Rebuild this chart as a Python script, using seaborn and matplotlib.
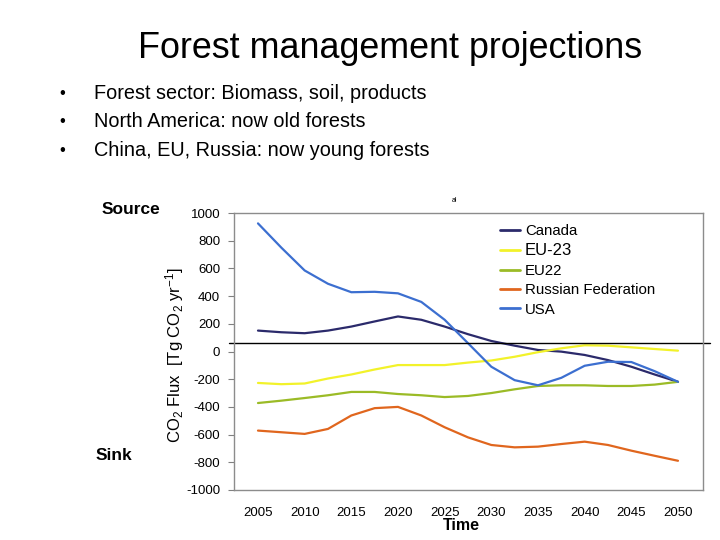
import numpy as np
import pandas as pd
import matplotlib
matplotlib.use("Agg")
import matplotlib.pyplot as plt
import seaborn as sns
from matplotlib.lines import Line2D

# ---- data (every 2.5 years) ----
years = [2005, 2007.5, 2010, 2012.5, 2015, 2017.5, 2020, 2022.5, 2025, 2027.5,
         2030, 2032.5, 2035, 2037.5, 2040, 2042.5, 2045, 2047.5, 2050]
canada = [151, 139, 132, 151, 180, 217, 253, 229, 180, 125,
          76, 42, 11, -1, -25, -62, -110, -166, -219]
eu23 = [-227, -236, -231, -195, -166, -130, -98, -98, -98, -80,
        -65, -38, -5, 23, 45, 42, 30, 18, 6]
eu22 = [-372, -355, -336, -316, -292, -292, -307, -316, -329, -321,
        -300, -273, -249, -244, -244, -249, -249, -239, -219]
russia = [-571, -583, -595, -559, -462, -409, -400, -462, -547, -620,
          -675, -692, -687, -668, -651, -675, -716, -753, -789]
usa = [925, 750, 585, 489, 428, 431, 420, 358, 229, 60,
       -110, -207, -244, -190, -103, -74, -76, -142, -219]

series_names = ["Canada", "EU-23", "EU22", "Russian Federation", "USA"]
colors = ["#2b2a6b", "#f2f22a", "#9bbb26", "#e0661e", "#3c6fd0"]
year_ticks = [2005, 2010, 2015, 2020, 2025, 2030, 2035, 2040, 2045, 2050]
bullets = ["Forest sector: Biomass, soil, products",
           "North America: now old forests",
           "China, EU, Russia: now young forests"]

df = pd.DataFrame({
    "year": years * 5,
    "flux": canada + eu23 + eu22 + russia + usa,
    "region": sum([[n] * len(years) for n in series_names], []),
})

sns.set_style("white")
plt.rcParams["font.family"] = ["Liberation Sans", "DejaVu Sans"]
plt.rcParams["mathtext.default"] = "regular"
plt.rcParams["axes.unicode_minus"] = False
plt.rcParams["text.color"] = "black"
plt.rcParams["xtick.color"] = "black"
plt.rcParams["ytick.color"] = "black"

fig = plt.figure(figsize=(7.2, 5.4), dpi=100)
ax = fig.add_axes([234 / 720, 1 - 490 / 540, (703 - 234) / 720, (490 - 213) / 540])

sns.lineplot(data=df, x="year", y="flux", hue="region", hue_order=series_names,
             palette=colors, linewidth=1.6, ax=ax, legend=False)

ax.set_xlim(2002.43, 2052.68)
ax.set_ylim(-1000, 1000)
ax.set_yticks(np.arange(-1000, 1001, 200))
ax.set_xticks(year_ticks)
ax.set_xticklabels([str(y) for y in year_ticks])
ax.tick_params(axis="x", length=0, pad=12, labelsize=9.5, labelcolor="black")
ax.tick_params(axis="y", length=4, width=0.8, color="#808080", pad=6,
               labelsize=9.5, left=True, labelcolor="black")
ax.set_xlabel("")
ax.set_ylabel("")
for s in ax.spines.values():
    s.set_color("#8c8c8c")
    s.set_linewidth(1.0)

# horizontal reference line (slightly above zero, running past the box)
ax.plot([-0.01, 1.015], [0.531, 0.531], transform=ax.transAxes,
        color="black", linewidth=1.0, clip_on=False)

# legend
handles = [Line2D([0], [0], color=c, linewidth=2) for c in colors]
leg = fig.legend(handles, series_names, loc="upper left",
                 bbox_to_anchor=(500 / 720, 1 - 224 / 540), frameon=False,
                 fontsize=10.8, handlelength=1.35, handletextpad=0.3,
                 labelspacing=0.36, borderpad=0, borderaxespad=0)
for t in leg.get_texts():
    t.set_color("black")
leg.get_texts()[1].set_fontsize(12)

# texts
fig.text(390 / 720, 1 - 48 / 540, "Forest management projections",
         ha="center", va="center", fontsize=25.8)
for i, b in enumerate(bullets):
    yy = 1 - (93 + 29 * i) / 540
    fig.text(62 / 720, yy, "\u2022", ha="center", va="center", fontsize=12)
    fig.text(94 / 720, yy, b, ha="left", va="center", fontsize=14.3)

fig.text(131 / 720, 1 - 210 / 540, "Source", ha="center", va="center",
         fontsize=12.5, fontweight="bold")
fig.text(114 / 720, 1 - 455 / 540, "Sink", ha="center", va="center",
         fontsize=12.5, fontweight="bold")
fig.text(175 / 720, 1 - 355 / 540, "CO$_2$ Flux  [Tg CO$_2$ yr$^{-1}$]",
         rotation=90, ha="center", va="center", fontsize=12)
fig.text(461 / 720, 1 - 526 / 540, "Time", ha="center", va="center",
         fontsize=11.5, fontweight="bold")
fig.text(455 / 720, 1 - 201 / 540, "al", ha="center", va="center", fontsize=5)

fig.savefig("out.png", dpi=100)
